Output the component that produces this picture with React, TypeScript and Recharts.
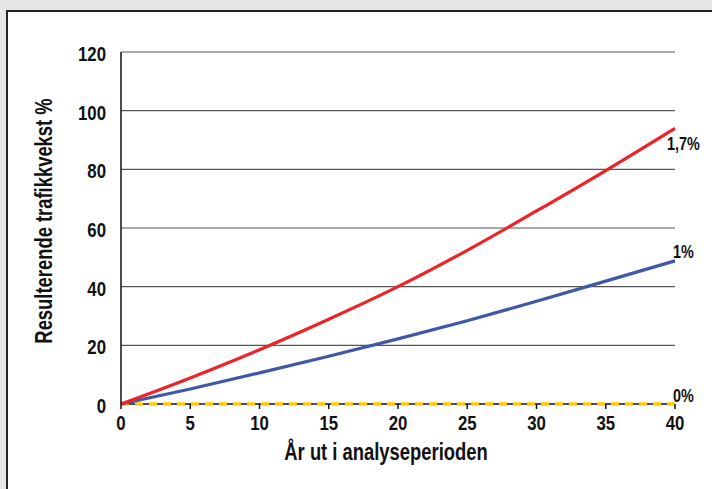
import { LineChart, Line, XAxis, YAxis, CartesianGrid } from 'recharts';

const years = [0, 5, 10, 15, 20, 25, 30, 35, 40];
const growth17 = [0, 8.9, 18.5, 28.9, 40.0, 52.4, 65.8, 79.6, 94.0];
const growth10 = [0, 5.1, 10.6, 16.3, 22.2, 28.4, 35.0, 41.9, 48.8];
const growth0 = [0, 0, 0, 0, 0, 0, 0, 0, 0];
const yTicks = [0, 20, 40, 60, 80, 100, 120];
const xTicks = [0, 5, 10, 15, 20, 25, 30, 35, 40];

const data = years.map((year, i) => ({
  year,
  g17: growth17[i],
  g10: growth10[i],
  g0: growth0[i],
}));

const FONT = '"Liberation Sans", Arial, sans-serif';

// Arial Narrow look: bold Liberation Sans squeezed horizontally
function NarrowText({ x, y, anchor = 'start', angle = 0, size = 21, children }: any) {
  return (
    <text
      transform={`translate(${x},${y}) rotate(${angle}) scale(0.8,1)`}
      textAnchor={anchor}
      fontFamily={FONT}
      fontWeight="bold"
      fontSize={size}
      fill="#111"
    >
      {children}
    </text>
  );
}

const endLabel = (text: string, dx: number, dy: number) => (props: any) => {
  if (props.index !== data.length - 1) return null;
  return (
    <NarrowText x={props.x + dx} y={props.y + dy} size={18}>
      {text}
    </NarrowText>
  );
};

export default function App() {
  return (
    <div style={{ position: 'absolute', left: 0, top: 0, width: 712, height: 489, background: '#e5e6e8', overflow: 'hidden' }}>
      <div
        style={{
          position: 'absolute',
          left: 6,
          top: 10,
          width: 720,
          height: 500,
          background: '#fff',
          border: '2px solid #222',
        }}
      />
      <div style={{ position: 'absolute', left: 0, top: 0 }}>
        <LineChart width={712} height={489} data={data} margin={{ top: 52, right: 37, left: 0, bottom: 0 }}>
          <CartesianGrid vertical={false} stroke="#555" strokeWidth={1.2} horizontalValues={[20, 40, 60, 80, 100, 120]} />
          <XAxis
            dataKey="year"
            type="number"
            domain={[0, 40]}
            ticks={xTicks}
            height={85}
            axisLine={false}
            tickLine={{ stroke: '#111', strokeWidth: 1.5 }}
            tickSize={5}
            tickMargin={0}
            tick={(p: any) => (
              <NarrowText x={p.x} y={p.y + 21} anchor="middle">
                {p.payload.value}
              </NarrowText>
            )}
            label={{
              content: (p: any) => (
                <NarrowText x={p.viewBox.x + p.viewBox.width / 2 - 12} y={p.viewBox.y + 56} anchor="middle" size={23}>
                  År ut i analyseperioden
                </NarrowText>
              ),
            }}
          />
          <YAxis
            type="number"
            domain={[0, 120]}
            ticks={yTicks}
            width={121}
            stroke="#111"
            strokeWidth={1.5}
            tickSize={0}
            tickMargin={15}
            tick={(p: any) => (
              <NarrowText x={p.x} y={p.y + 9} anchor="end">
                {p.payload.value}
              </NarrowText>
            )}
            label={{
              content: (p: any) => (
                <NarrowText x={52} y={p.viewBox.y + p.viewBox.height / 2 - 7} anchor="middle" angle={-90} size={23}>
                  Resulterende trafikkvekst %
                </NarrowText>
              ),
            }}
          />
          {/* black baseline under the dashed 0% series */}
          <Line
            dataKey="g0"
            type="linear"
            stroke="#111"
            strokeWidth={1.6}
            dot={false}
            isAnimationActive={false}
          />
          <Line
            dataKey="g0"
            type="linear"
            stroke="#ffcc00"
            strokeWidth={3.5}
            strokeDasharray="8 6"
            dot={false}
            isAnimationActive={false}
            label={endLabel('0%', -2, -2)}
          />
          <Line
            dataKey="g10"
            type="monotone"
            stroke="#3f58a8"
            strokeWidth={3.2}
            dot={false}
            isAnimationActive={false}
            label={endLabel('1%', -2, -3)}
          />
          <Line
            dataKey="g17"
            type="monotone"
            stroke="#ee2229"
            strokeWidth={3.2}
            dot={false}
            isAnimationActive={false}
            label={endLabel('1,7%', -8, 22)}
          />
        </LineChart>
      </div>
    </div>
  );
}
